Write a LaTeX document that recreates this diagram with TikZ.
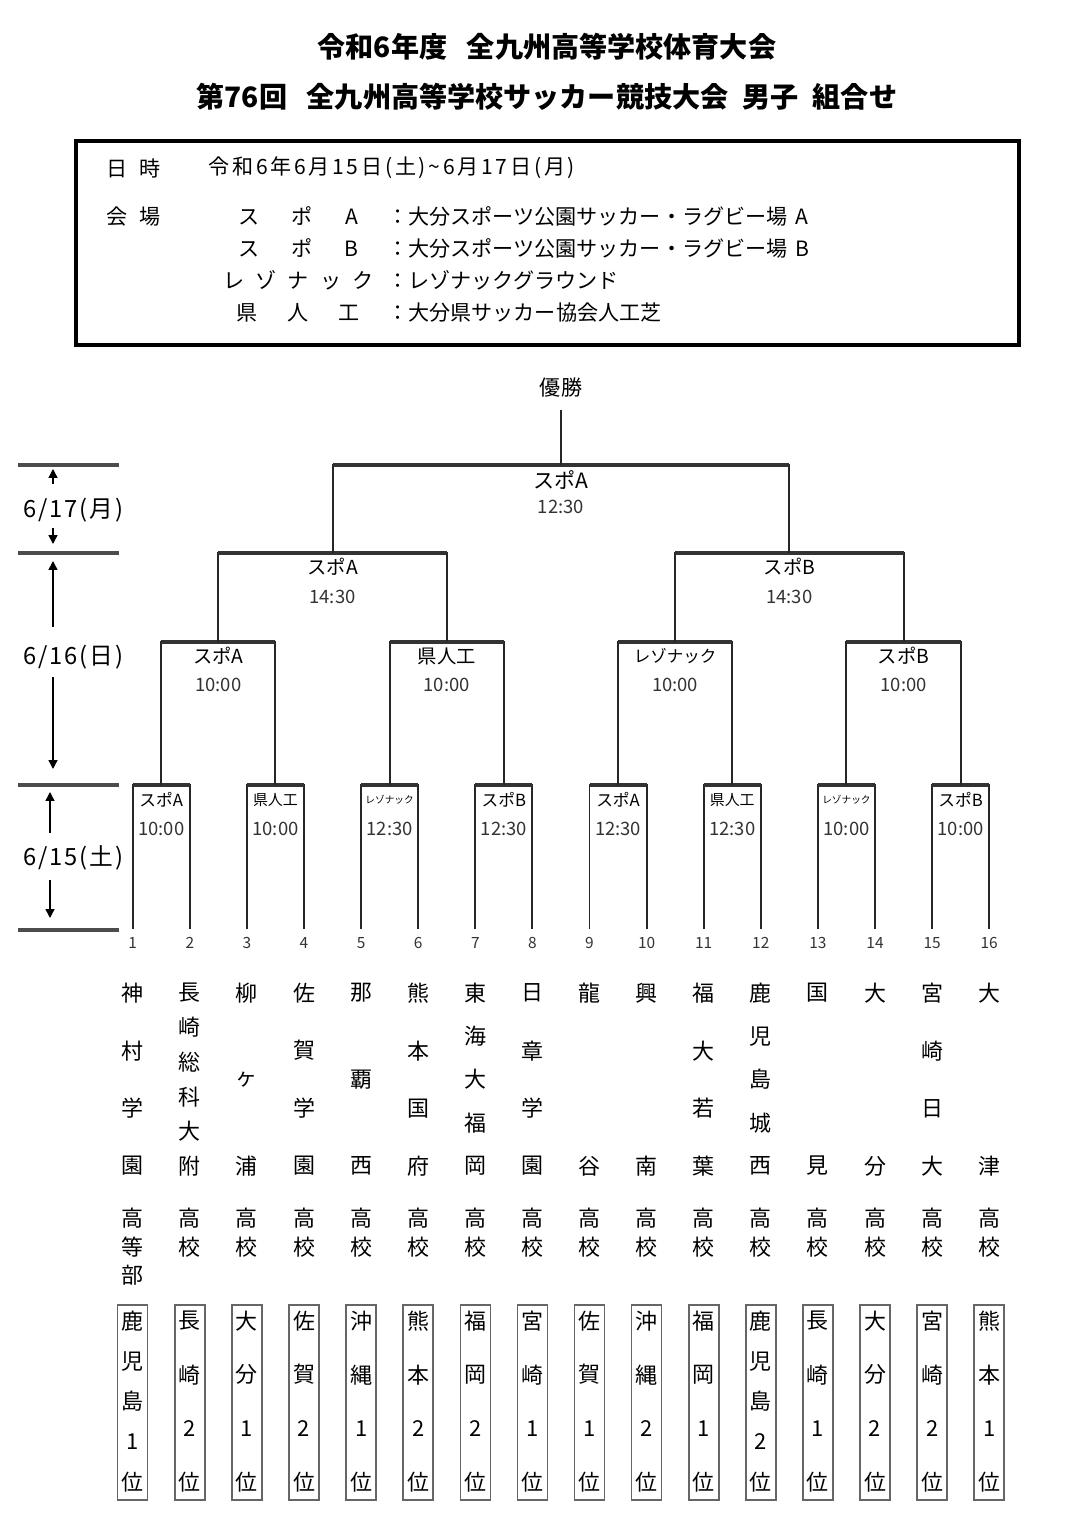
\documentclass[tikz,border=0pt]{standalone}
\usepackage{fontspec}
\setmainfont{Noto Sans CJK JP}
\usetikzlibrary{arrows.meta}
\newcommand\fsz[1]{\fontsize{#1}{#1}\selectfont}

\begin{document}
\begin{tikzpicture}
        [x=0.02cm, y=-0.02cm,
        txt/.style={inner sep=0pt, font=\fsz{12pt}},
        headline/.style={inner sep=0pt, font=\fsz{16pt}\bfseries},
        leg/.style={line width=1.1pt, draw=black!85},
        bar/.style={line width=1.8pt, draw=black!80},
        venue/.style={inner sep=0pt, font=\fsz{11pt}},
        clock/.style={inner sep=0pt, font=\fsz{10.5pt}, text=black!80},
        dayline/.style={line width=1.8pt, draw=black!70},
        dayarrow/.style={line width=0.8pt, -{Triangle[length=5pt, width=5pt]}},
        daytxt/.style={inner sep=0pt, font=\fsz{13.5pt}\addfontfeature{LetterSpace=8}, anchor=west},
        num/.style={inner sep=0pt, font=\fsz{8.8pt}, text=black!80},
        school/.style={inner sep=0pt, font=\fsz{12.5pt}},
        prefbox/.style={draw=black!60, line width=0.9pt, inner sep=0pt, minimum width=0.6cm, minimum height=3.9cm}]
        \useasboundingbox (0,0) rectangle (1080,1530);
        \fill[white] (0,0) rectangle (1080,1530);

        % heading
        \node[headline] (title1) at (547,47) {令和6年度\hspace{0.7em}全九州高等学校体育大会};
        \node[headline] (title2) at (547,97) {第76回\hspace{0.7em}全九州高等学校サッカー競技大会\hspace{0.5em}男子\hspace{0.5em}組合せ};

        % info box
        \draw[line width=2.2pt] (76,141) rectangle (1019,345);
        \node[txt, anchor=west] (when) at (106,168) {日\hspace{0.55em}時};
        \node[txt, anchor=west] (date) at (208,168) {\addfontfeature{LetterSpace=13}令和6年6月15日(土)\textasciitilde 6月17日(月)};
        \node[txt, anchor=west] (place) at (106,217) {会\hspace{0.55em}場};
        \node[txt, anchor=west] (vA) at (238,216) {\makebox[2.4cm][s]{ス\hfill ポ\hfill A}};
        \node[txt, anchor=west] (vB) at (238,248) {\makebox[2.4cm][s]{ス\hfill ポ\hfill B}};
        \node[txt, anchor=west] (vR) at (223,280) {\makebox[3.0cm][s]{レ\hfill ゾ\hfill ナ\hfill ッ\hfill ク}};
        \node[txt, anchor=west] (vK) at (236,313) {\makebox[2.46cm][s]{県\hfill 人\hfill 工}};
        \node[txt, anchor=west] (nA) at (387,216) {：大分スポーツ公園サッカー・ラグビー場\hspace{0.4em}A};
        \node[txt, anchor=west] (nB) at (387,248) {：大分スポーツ公園サッカー・ラグビー場\hspace{0.4em}B};
        \node[txt, anchor=west] (nR) at (387,280) {：レゾナックグラウンド};
        \node[txt, anchor=west] (nK) at (387,313) {：大分県サッカー協会人工芝};

        % days on the left
        \foreach \y [count=\k] in {465,553,785,930} {
            \coordinate (dl\k) at (18,\y);
            \coordinate (dr\k) at (119,\y);
            \draw[dayline] (dl\k) -- (dr\k);
        }
        \node[daytxt] (day17) at (23,510) {6/17(月)};
        \node[daytxt] (day16) at (23,657) {6/16(日)};
        \node[daytxt] (day15) at (23,858) {6/15(土)};
        \foreach \n/\x/\a/\b in {u17/53/484/469, d17/53/528/544, u16/53/627/561, d16/53/677/769, u15/50/833/792, d15/50/880/918} {
            \coordinate (\n s) at (\x,\a);
            \coordinate (\n e) at (\x,\b);
            \draw[dayarrow] (\n s) -- (\n e);
        }

        % bracket points
        \foreach \i in {1,...,16}
            \coordinate (t\i) at ({132.7+57.1*(\i-1)},929);
        \foreach \m in {1,...,8}
            \coordinate (a\m) at ({132.7+57.1*(2*\m-1.5)},785);
        \foreach \m in {1,...,4}
            \coordinate (b\m) at ({132.7+57.1*(4*\m-2.5)},642);
        \foreach \m in {1,2}
            \coordinate (c\m) at ({132.7+57.1*(8*\m-4.5)},553);
        \coordinate (f) at (561,465);
        \coordinate (fin) at (561,410);
        \node[txt] (champ) at (561,388) {優勝};

        % round 1
        \foreach \m [evaluate=\m as \l using int(2*\m-1), evaluate=\m as \r using int(2*\m)] in {1,...,8} {
            \draw[leg] (t\l) |- (a\m) -| (t\r);
            \draw[bar] (t\l |- a\m) -- (t\r |- a\m);
        }
        % round 2
        \foreach \m [evaluate=\m as \l using int(2*\m-1), evaluate=\m as \r using int(2*\m)] in {1,...,4} {
            \draw[leg] (a\l) |- (b\m) -| (a\r);
            \draw[bar] (a\l |- b\m) -- (a\r |- b\m);
        }
        % semi final
        \foreach \m [evaluate=\m as \l using int(2*\m-1), evaluate=\m as \r using int(2*\m)] in {1,2} {
            \draw[leg] (b\l) |- (c\m) -| (b\r);
            \draw[bar] (b\l |- c\m) -- (b\r |- c\m);
        }
        % final
        \draw[leg] (c1) |- (f) -| (c2);
        \draw[bar] (c1 |- f) -- (c2 |- f);
        \draw[leg] (f) -- (fin);

        % venues and times
        \foreach \m/\v/\tm in {1/{\fsz{9.5pt}スポA}/10:00, 2/{\fsz{8.5pt}県人工}/10:00, 3/{\fsz{5.5pt}レゾナック}/12:30, 4/{\fsz{9.5pt}スポB}/12:30,
                               5/{\fsz{9.5pt}スポA}/12:30, 6/{\fsz{8.5pt}県人工}/12:30, 7/{\fsz{5.5pt}レゾナック}/10:00, 8/{\fsz{9.5pt}スポB}/10:00} {
            \node[venue] (va\m) at ({132.7+57.1*(2*\m-1.5)},800) {\v};
            \node[clock] (ta\m) at ({132.7+57.1*(2*\m-1.5)},829) {\tm};
        }
        \foreach \m/\v/\tm in {1/{スポA}/10:00, 2/{県人工}/10:00, 3/{\fsz{9.4pt}レゾナック}/10:00, 4/{スポB}/10:00} {
            \node[venue] (vb\m) at ({132.7+57.1*(4*\m-2.5)},656) {\v};
            \node[clock] (tb\m) at ({132.7+57.1*(4*\m-2.5)},685) {\tm};
        }
        \foreach \m/\v/\tm in {1/{スポA}/14:30, 2/{スポB}/14:30} {
            \node[venue] (vc\m) at ({132.7+57.1*(8*\m-4.5)},567) {\v};
            \node[clock] (tc\m) at ({132.7+57.1*(8*\m-4.5)},597) {\tm};
        }
        \node[venue, font=\fsz{12pt}] (vf) at (561,480) {スポA};
        \node[clock] (tf) at (561,507) {12:30};

        % numbers
        \foreach \i in {1,...,16}
            \node[num] (n\i) at ({132.7+57.1*(\i-1)},943) {\i};

        % schools
        \foreach \n/\chars [count=\i] in {4/{神,村,学,園}, 6/{長,崎,総,科,大,附}, 3/{柳,ヶ,浦}, 4/{佐,賀,学,園},
                                          3/{那,覇,西}, 4/{熊,本,国,府}, 5/{東,海,大,福,岡}, 4/{日,章,学,園},
                                          2/{龍,谷}, 2/{興,南}, 4/{福,大,若,葉}, 5/{鹿,児,島,城,西},
                                          2/{国,見}, 2/{大,分}, 4/{宮,崎,日,大}, 2/{大,津}} {
            \foreach \c [count=\j] in \chars
                \node[school] (s\i-\j) at ({132.7+57.1*(\i-1)},{993+(\j-1)*173/(\n-1)}) {\c};
        }
        \node[school] (h1a) at (132.7,1218) {高};
        \node[school] (h1b) at (132.7,1247) {等};
        \node[school] (h1c) at (132.7,1275) {部};
        \foreach \i in {2,...,16} {
            \node[school] (h\i a) at ({132.7+57.1*(\i-1)},1218) {高};
            \node[school] (h\i b) at ({132.7+57.1*(\i-1)},1247) {校};
        }

        % prefecture places
        \foreach \n/\chars [count=\i] in {5/{鹿,児,島,1,位}, 4/{長,崎,2,位}, 4/{大,分,1,位}, 4/{佐,賀,2,位},
                                          4/{沖,縄,1,位}, 4/{熊,本,2,位}, 4/{福,岡,2,位}, 4/{宮,崎,1,位},
                                          4/{佐,賀,1,位}, 4/{沖,縄,2,位}, 4/{福,岡,1,位}, 5/{鹿,児,島,2,位},
                                          4/{長,崎,1,位}, 4/{大,分,2,位}, 4/{宮,崎,2,位}, 4/{熊,本,1,位}} {
            \node[prefbox] (p\i) at ({132.7+57.1*(\i-1)},1402.5) {};
            \foreach \c [count=\j] in \chars
                \node[school] (p\i-\j) at ({132.7+57.1*(\i-1)},{1321+(\j-1)*161/(\n-1)}) {\c};
        }

    \end{tikzpicture}
\end{document}
